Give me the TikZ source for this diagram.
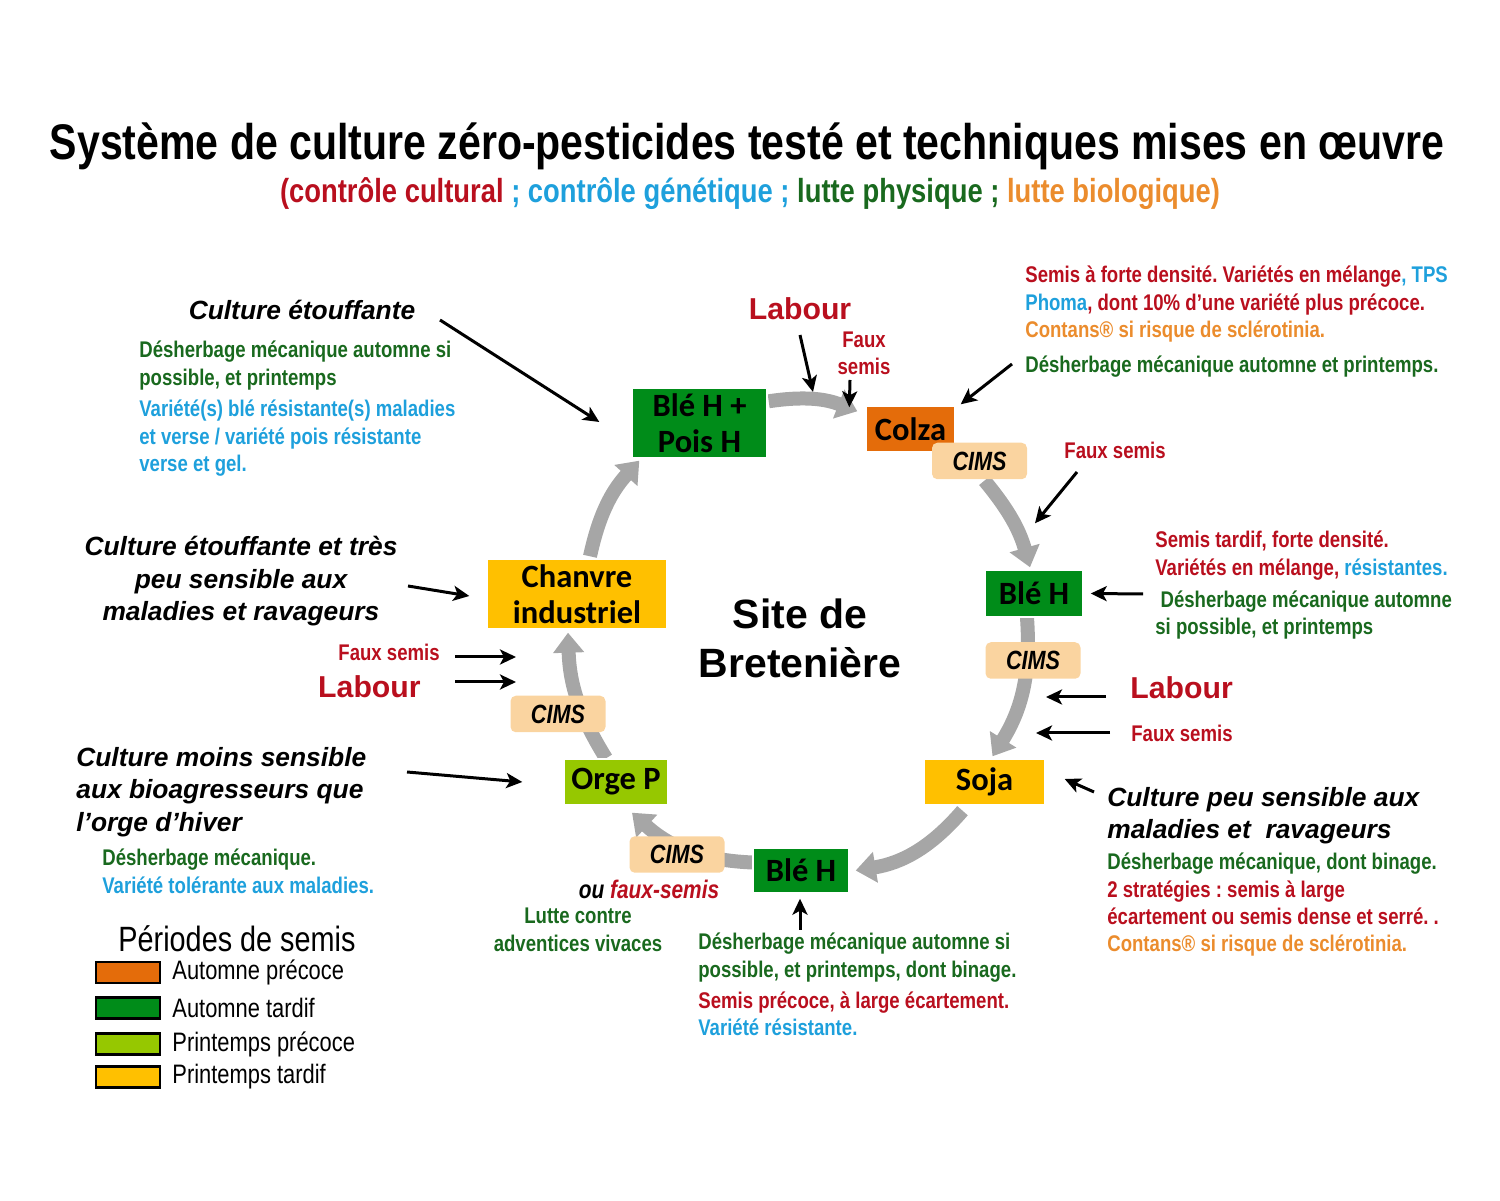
\documentclass[tikz,border=0pt]{standalone}
\usepackage{fontspec}
\setmainfont{Liberation Sans}
\newfontfamily\narrowsf{Liberation Sans}[FakeStretch=0.82]
\newfontfamily\calibrisf{Carlito}
\usetikzlibrary{arrows.meta,positioning,backgrounds}
\frenchspacing

\definecolor{cultural}{RGB}{185,15,30}
\definecolor{genetic}{RGB}{30,160,220}
\definecolor{physical}{RGB}{25,105,30}
\definecolor{biological}{RGB}{235,140,45}
\definecolor{autEarly}{RGB}{228,108,10}
\definecolor{autLate}{RGB}{0,140,25}
\definecolor{sprEarly}{RGB}{150,200,0}
\definecolor{sprLate}{RGB}{255,192,0}
\definecolor{cimsfill}{RGB}{250,212,160}
\definecolor{cycle}{RGB}{166,166,166}

\tikzset{
  crop/.style={draw=white, line width=0.8pt, inner sep=0, align=center, text=black,
    font=\calibrisf\bfseries\fontsize{18.5}{20.4}\selectfont},
  cimsbox/.style={fill=cimsfill, rounded corners=3pt, inner sep=0, minimum width=1.9cm,
    minimum height=0.73cm, font=\narrowsf\bfseries\itshape\fontsize{15}{18}\selectfont},
  note/.style={inner sep=0, align=left, font=\narrowsf\bfseries\fontsize{12.9}{15.4}\selectfont},
  remark/.style={inner sep=0, font=\bfseries\itshape\fontsize{15}{18.4}\selectfont},
  tillage/.style={inner sep=0, text=cultural, font=\bfseries\fontsize{17.2}{20}\selectfont},
  cyclearrow/.style={draw=cycle, line width=0.28cm, -{Triangle[width=0.6cm,length=0.4cm]}},
  pointer/.style={draw=black, line width=0.06cm, -{Stealth[length=0.32cm,width=0.3cm,inset=0.08cm]}},
  legendbox/.style={draw=black, line width=1.2pt, minimum width=1.28cm, minimum height=0.42cm, inner sep=0},
  legendtxt/.style={inner sep=0, font=\narrowsf\fontsize{15.2}{18}\selectfont},
}

\begin{document}
\begin{tikzpicture}[x=0.02cm, y=0.02cm]
  \useasboundingbox (0,0) rectangle (1500,1200);

  % title
  \node[inner sep=0, anchor=base, font=\narrowsf\bfseries\fontsize{28.5}{32}\selectfont] (title) at (747, 1040)
    {Système de culture zéro-pesticides testé et techniques mises en œuvre};
  \node[inner sep=0, anchor=base, font=\narrowsf\bfseries\fontsize{19}{22}\selectfont] (subtitle) at (750, 997)
    {\textcolor{cultural}{(contrôle cultural} \textcolor{genetic}{; contrôle génétique ;} \textcolor{physical}{lutte physique ;} \textcolor{biological}{lutte biologique)}};

  % rotation
  \node[crop, fill=autLate, minimum width=2.7cm, minimum height=1.4cm] (bp) at (699.5, 777) {Blé H +\\Pois H};
  \node[crop, fill=autEarly, minimum width=1.78cm, minimum height=0.92cm] (colza) at (910.5, 771) {Colza};
  \node[crop, fill=autLate, minimum width=1.96cm, minimum height=0.94cm] (ble1) at (1034, 606.5) {Blé H};
  \node[crop, fill=sprLate, minimum width=2.42cm, minimum height=0.92cm] (soja) at (984.5, 418) {Soja};
  \node[crop, fill=autLate, minimum width=1.92cm, minimum height=0.9cm] (ble2) at (801, 329.5) {Blé H};
  \node[crop, fill=sprEarly, minimum width=2.08cm, minimum height=0.92cm] (orge) at (616, 418) {Orge P};
  \node[crop, fill=sprLate, minimum width=3.6cm, minimum height=1.4cm] (chanvre) at (577, 606) {Chanvre\\industriel};

  \node[cimsbox] (cimsA) at (979.5, 739) {CIMS};
  \node[cimsbox] (cimsB) at (1033, 539.5) {CIMS};
  \node[cimsbox] (cimsC) at (677, 345.5) {CIMS};
  \node[cimsbox] (cimsD) at (558, 486) {CIMS};

  \node[inner sep=0, align=center, font=\bfseries\fontsize{23.3}{27.8}\selectfont] (site) at (800, 561.5) {Site de\\Bretenière};

  \begin{scope}[on background layer]
    \draw[cyclearrow] ([shift={(1,-14)}]bp.north east) to[bend left=15] ([shift={(-8,-6)}]colza.north west);
    \draw[cyclearrow] ([shift={(5,-1)}]cimsA.south) to[bend left=12] ([shift={(-4,2)}]ble1.north);
    \draw[cyclearrow] ([shift={(-7,0)}]ble1.south) to[bend left=18] ([shift={(8,2)}]soja.north);
    \draw[cyclearrow] ([shift={(-22,-5)}]soja.south) to[bend left=20] ([shift={(6,0)}]ble2.east);
    \draw[cyclearrow] ([shift={(0,8)}]ble2.west) to[bend left=20] ([shift={(16,-7)}]orge.south);
    \draw[cyclearrow] ([shift={(-10,0)}]orge.north) to[bend left=15] ([shift={(-9,-3)}]chanvre.south);
    \draw[cyclearrow] ([shift={(13,2)}]chanvre.north) to[bend left=15] ([shift={(8,-2)}]bp.south west);
  \end{scope}

  % left side
  \node[remark, anchor=base] (etouf) at (302, 880.5) {Culture étouffante};
  \node[note, anchor=north west] (etoufD) at (139, 859)
    {\textcolor{physical}{Désherbage mécanique automne si}\\
     \textcolor{physical}{possible, et printemps}\\[2.8pt]
     \textcolor{genetic}{Variété(s) blé résistante(s) maladies}\\
     \textcolor{genetic}{et verse / variété pois résistante}\\
     \textcolor{genetic}{verse et gel.}};
  \node[remark, align=center, anchor=north] (chanvreT) at (241, 664)
    {Culture étouffante et très\\peu sensible aux\\maladies et ravageurs};
  \node[note, text=cultural, anchor=base east] (fsL) at (440, 539) {Faux semis};
  \node[tillage, anchor=base east] (labL) at (421, 502) {Labour};
  \node[remark, align=left, anchor=north west] (orgeT) at (76, 453)
    {Culture moins sensible\\aux bioagresseurs que\\l’orge d’hiver};
  \node[note, anchor=north west] (orgeD) at (102, 351)
    {\textcolor{physical}{Désherbage mécanique.}\\
     \textcolor{genetic}{Variété tolérante aux maladies.}};

  % legend
  \node[inner sep=0, anchor=base, font=\narrowsf\fontsize{20}{23}\selectfont] (legend) at (237, 248) {Périodes de semis};
  \foreach \fillc/\lab/\yy [count=\i] in {autEarly/Automne précoce/227.5, autLate/Automne tardif/192,
      sprEarly/Printemps précoce/156, sprLate/Printemps tardif/123} {
    \node[legendbox, fill=\fillc] (leg\i) at (128, \yy) {};
    \node[legendtxt, right=0.22cm of leg\i] (legT\i) {\lab};
  }

  % top and right side
  \node[tillage, anchor=base] (labT) at (800, 880) {Labour};
  \node[note, text=cultural, align=center, anchor=north] (fsT) at (864, 868) {Faux\\semis};
  \node[note, anchor=north west] (colzaD) at (1025, 934)
    {\textcolor{cultural}{Semis à forte densité. Variétés en mélange}\textcolor{genetic}{, TPS}\\
     \textcolor{genetic}{Phoma}\textcolor{cultural}{, dont 10\% d’une variété plus précoce.}\\
     \textcolor{biological}{Contans® si risque de sclérotinia.}\\[4.8pt]
     \textcolor{physical}{Désherbage mécanique automne et printemps.}};
  \node[note, text=cultural, anchor=base] (fsR1) at (1115, 741) {Faux semis};
  \node[note, anchor=north west] (bleD) at (1155, 669)
    {\textcolor{cultural}{Semis tardif, forte densité.}\\
     \textcolor{cultural}{Variétés en mélange,} \textcolor{genetic}{résistantes.}\\[2.8pt]
     \hspace{3pt}\textcolor{physical}{Désherbage mécanique automne}\\
     \textcolor{physical}{si possible, et printemps}};
  \node[tillage, anchor=base west] (labR) at (1130, 501) {Labour};
  \node[note, text=cultural, anchor=base west] (fsR2) at (1131, 458) {Faux semis};
  \node[remark, align=left, anchor=north west] (sojaT) at (1107, 413)
    {Culture peu sensible aux\\maladies et \ ravageurs};
  \node[note, anchor=north west] (sojaD) at (1107, 347)
    {\textcolor{physical}{Désherbage mécanique, dont binage.}\\
     \textcolor{cultural}{2 stratégies : semis à large}\\
     \textcolor{cultural}{écartement ou semis dense et serré. .}\\
     \textcolor{biological}{Contans® si risque de sclérotinia.}};

  % bottom
  \node[inner sep=0, anchor=base, font=\narrowsf\bfseries\itshape\fontsize{14.5}{17}\selectfont] (ouFS) at (649, 301)
    {ou \textcolor{cultural}{faux-semis}};
  \node[note, text=physical, align=center, anchor=north] (lutte) at (578, 292) {Lutte contre\\adventices vivaces};
  \node[note, anchor=north west] (ble2D) at (698, 267)
    {\textcolor{physical}{Désherbage mécanique automne si}\\
     \textcolor{physical}{possible, et printemps, dont binage.}\\[2.3pt]
     \textcolor{cultural}{Semis précoce, à large écartement.}\\
     \textcolor{genetic}{Variété résistante.}};

  % pointers
  \draw[pointer] ([shift={(138,-0.5)}]etouf.base) -- ([shift={(-32,1)}]bp.west);
  \draw[pointer] ([shift={(167,-50)}]chanvreT.north) -- ([shift={(-17,-2)}]chanvre.west);
  \draw[pointer] ([shift={(15,4)}]fsL.base east) -- ++(61,0);
  \draw[pointer] ([shift={(34,16)}]labL.base east) -- ++(61,0);
  \draw[pointer] ([shift={(331,-25)}]orgeT.north west) -- ([shift={(-41,0)}]orge.west);
  \draw[pointer] ([shift={(0,-15)}]labT.base) -- ++(13,-57);
  \draw[pointer] ([shift={(-14,-48)}]fsT.north) -- ([shift={(-16,-2)}]colza.north west);
  \draw[pointer] ([shift={(-13,-98)}]colzaD.north west) -- ([shift={(5,1)}]colza.north east);
  \draw[pointer] ([shift={(-38,-13)}]fsR1.base) -- ([shift={(1,46)}]ble1.north);
  \draw[pointer] ([shift={(-12,-63)}]bleD.north west) -- ([shift={(7,0)}]ble1.east);
  \draw[pointer] ([shift={(-24,2)}]labR.base west) -- ++(-60,0);
  \draw[pointer] ([shift={(-21,9)}]fsR2.base west) -- ++(-74,0);
  \draw[pointer] ([shift={(-13,-5)}]sojaT.north west) -- ([shift={(19,3)}]soja.east);
  \draw[pointer] ([shift={(102,3)}]ble2D.north west) -- ([shift={(-1,-5)}]ble2.south);
\end{tikzpicture}
\end{document}
